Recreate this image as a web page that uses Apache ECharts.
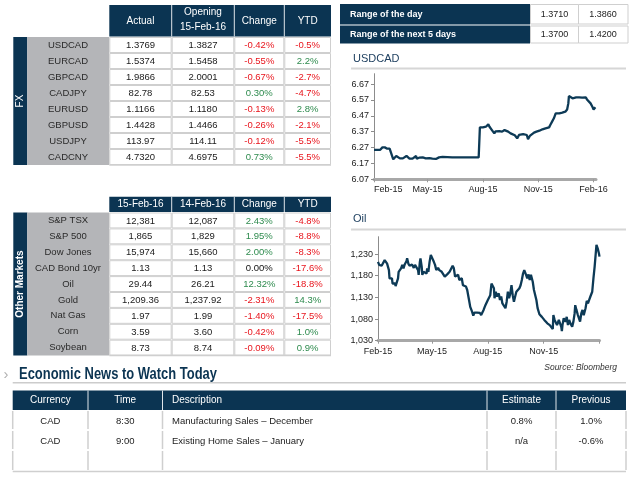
<!DOCTYPE html>
<html><head><meta charset="utf-8">
<script src="https://cdn.jsdelivr.net/npm/echarts@6/dist/echarts.min.js"></script>
<style>html,body{margin:0;padding:0;background:#fff}#c{width:636px;height:478px}</style>
</head><body><div id="c"></div>
<script>
// ---------------- DATA ----------------
const fxPairs   = ['USDCAD','EURCAD','GBPCAD','CADJPY','EURUSD','GBPUSD','USDJPY','CADCNY'];
const fxActual  = ['1.3769','1.5374','1.9866','82.78','1.1166','1.4428','113.97','4.7320'];
const fxOpening = ['1.3827','1.5458','2.0001','82.53','1.1180','1.4466','114.11','4.6975'];
const fxChange  = ['-0.42%','-0.55%','-0.67%','0.30%','-0.13%','-0.26%','-0.12%','0.73%'];
const fxYtd     = ['-0.5%','2.2%','-2.7%','-4.7%','2.8%','-2.1%','-5.5%','-5.5%'];
const fxHeaders = ['Actual','Opening\n15-Feb-16','Change','YTD'];

const mkNames   = ['S&P TSX','S&P 500','Dow Jones','CAD Bond 10yr','Oil','Gold','Nat Gas','Corn','Soybean'];
const mkToday   = ['12,381','1,865','15,974','1.13','29.44','1,209.36','1.97','3.59','8.73'];
const mkPrev    = ['12,087','1,829','15,660','1.13','26.21','1,237.92','1.99','3.60','8.74'];
const mkChange  = ['2.43%','1.95%','2.00%','0.00%','12.32%','-2.31%','-1.40%','-0.42%','-0.09%'];
const mkYtd     = ['-4.8%','-8.8%','-8.3%','-17.6%','-18.8%','14.3%','-17.5%','1.0%','0.9%'];
const mkHeaders = ['15-Feb-16','14-Feb-16','Change','YTD'];

const rangeLabels = ['Range of the day','Range of the next 5 days'];
const rangeLow    = ['1.3710','1.3700'];
const rangeHigh   = ['1.3860','1.4200'];

const newsHeaders  = ['Currency','Time','Description','Estimate','Previous'];
const newsCurrency = ['CAD','CAD'];
const newsTime     = ['8:30','9:00'];
const newsDesc     = ['Manufacturing Sales \u2013 December','Existing Home Sales \u2013 January'];
const newsEstimate = ['0.8%','n/a'];
const newsPrevious = ['1.0%','-0.6%'];

const xTickDates  = ['2015-02-01','2015-05-01','2015-08-01','2015-11-01','2016-02-01'];
const xTickLabels = ['Feb-15','May-15','Aug-15','Nov-15','Feb-16'];
const usdYTicks = [6.07,6.17,6.27,6.37,6.47,6.57,6.67];
const oilYTicks = [1030,1080,1130,1180,1230];

const usdDates = ['2015-02-01','2015-02-05','2015-02-11','2015-02-15','2015-02-19','2015-02-23','2015-02-27','2015-03-02','2015-03-05','2015-03-07',
 '2015-03-10','2015-03-13','2015-03-16','2015-03-18','2015-03-21','2015-03-24','2015-03-27','2015-03-29','2015-04-01','2015-04-04',
 '2015-04-06','2015-04-09','2015-04-12','2015-04-13','2015-04-17','2015-04-23','2015-04-28','2015-05-04','2015-05-09','2015-05-15',
 '2015-05-20','2015-05-26','2015-06-11','2015-06-22','2015-07-14','2015-07-25','2015-07-27','2015-08-01','2015-08-06','2015-08-10',
 '2015-08-12','2015-08-16','2015-08-20','2015-08-22','2015-08-25','2015-08-28','2015-09-02','2015-09-06','2015-09-09','2015-09-12',
 '2015-09-16','2015-09-19','2015-09-23','2015-09-27','2015-09-30','2015-10-03','2015-10-07','2015-10-10','2015-10-13','2015-10-15',
 '2015-10-18','2015-10-21','2015-10-25','2015-10-29','2015-11-03','2015-11-08','2015-11-13','2015-11-19','2015-11-21','2015-11-24',
 '2015-11-27','2015-11-30','2015-12-06','2015-12-11','2015-12-16','2015-12-19','2015-12-21','2015-12-22','2015-12-25','2015-12-28',
 '2015-12-30','2016-01-03','2016-01-08','2016-01-13','2016-01-19','2016-01-21','2016-01-24','2016-01-27','2016-01-30','2016-02-01',
 '2016-02-03','2016-02-04'];
const usdValues = [6.255,6.255,6.255,6.271,6.271,6.263,6.263,6.259,6.196,6.208,
 6.217,6.208,6.202,6.196,6.202,6.208,6.217,6.219,6.200,6.204,
 6.200,6.208,6.217,6.200,6.206,6.208,6.202,6.204,6.200,6.198,
 6.208,6.211,6.208,6.208,6.208,6.208,6.397,6.397,6.401,6.416,
 6.401,6.380,6.359,6.372,6.380,6.374,6.370,6.380,6.385,6.370,
 6.359,6.359,6.347,6.328,6.349,6.359,6.355,6.359,6.349,6.322,
 6.343,6.349,6.364,6.370,6.376,6.385,6.391,6.397,6.412,6.433,
 6.454,6.485,6.485,6.490,6.496,6.510,6.548,6.594,6.594,6.580,
 6.590,6.586,6.586,6.584,6.586,6.573,6.565,6.548,6.527,6.510,
 6.502,6.523];

const oilDates = ['2015-02-01','2015-02-03','2015-02-05','2015-02-07','2015-02-09','2015-02-12','2015-02-14','2015-02-16','2015-02-18','2015-02-19',
 '2015-02-20','2015-02-22','2015-02-24','2015-02-25','2015-02-27','2015-03-01','2015-03-02','2015-03-04','2015-03-06','2015-03-07',
 '2015-03-09','2015-03-11','2015-03-13','2015-03-15','2015-03-17','2015-03-20','2015-03-21','2015-03-23','2015-03-25','2015-03-27',
 '2015-03-29','2015-04-01','2015-04-03','2015-04-05','2015-04-08','2015-04-09','2015-04-10','2015-04-11','2015-04-12','2015-04-14',
 '2015-04-15','2015-04-17','2015-04-20','2015-04-22','2015-04-23','2015-04-25','2015-04-27','2015-04-29','2015-05-01','2015-05-02',
 '2015-05-04','2015-05-06','2015-05-08','2015-05-11','2015-05-13','2015-05-15','2015-05-17','2015-05-19','2015-05-22','2015-05-24',
 '2015-05-26','2015-05-28','2015-05-30','2015-06-02','2015-06-04','2015-06-06','2015-06-08','2015-06-10','2015-06-13','2015-06-15',
 '2015-06-17','2015-06-19','2015-06-21','2015-06-24','2015-06-26','2015-06-28','2015-06-30','2015-07-01','2015-07-03','2015-07-06',
 '2015-07-08','2015-07-10','2015-07-12','2015-07-14','2015-07-17','2015-07-19','2015-07-21','2015-07-23','2015-07-25','2015-07-28',
 '2015-07-30','2015-08-01','2015-08-03','2015-08-05','2015-08-07','2015-08-09','2015-08-11','2015-08-12','2015-08-14','2015-08-16',
 '2015-08-19','2015-08-21','2015-08-23','2015-08-25','2015-08-27','2015-08-30','2015-09-01','2015-09-03','2015-09-05','2015-09-07',
 '2015-09-09','2015-09-11','2015-09-13','2015-09-15','2015-09-17','2015-09-19','2015-09-22','2015-09-24','2015-09-26','2015-09-28',
 '2015-09-30','2015-10-03','2015-10-05','2015-10-07','2015-10-09','2015-10-11','2015-10-14','2015-10-16','2015-10-18','2015-10-20',
 '2015-10-22','2015-10-25','2015-10-27','2015-10-29','2015-10-31','2015-11-02','2015-11-05','2015-11-07','2015-11-09','2015-11-11',
 '2015-11-13','2015-11-16','2015-11-17','2015-11-19','2015-11-21','2015-11-23','2015-11-26','2015-11-28','2015-11-30','2015-12-01',
 '2015-12-02','2015-12-04','2015-12-07','2015-12-09','2015-12-11','2015-12-13','2015-12-15','2015-12-18','2015-12-20','2015-12-22',
 '2015-12-23','2015-12-25','2015-12-27','2015-12-30','2015-12-31','2016-01-02','2016-01-04','2016-01-06','2016-01-09','2016-01-11',
 '2016-01-13','2016-01-15','2016-01-17','2016-01-20','2016-01-22','2016-01-24','2016-01-26','2016-01-27','2016-01-29','2016-01-31',
 '2016-02-01'];
const oilValues = [1212,1205,1208,1203,1206,1216,1214,1208,1205,1193,
 1174,1170,1174,1162,1158,1162,1156,1157,1174,1189,
 1185,1197,1205,1197,1206,1214,1220,1208,1203,1201,
 1206,1198,1205,1201,1193,1182,1197,1212,1220,1201,
 1182,1189,1193,1185,1197,1189,1212,1228,1232,1229,
 1212,1205,1193,1198,1193,1189,1189,1185,1178,1174,
 1183,1182,1189,1185,1203,1197,1178,1174,1182,1170,
 1166,1174,1158,1160,1155,1147,1143,1124,1108,1097,
 1088,1095,1092,1095,1091,1094,1089,1095,1101,1112,
 1116,1124,1122,1135,1162,1158,1151,1128,1143,1132,
 1139,1124,1132,1116,1112,1105,1120,1143,1128,1139,
 1158,1135,1120,1132,1143,1139,1151,1158,1170,1185,
 1193,1182,1174,1183,1170,1182,1166,1147,1143,1124,
 1105,1091,1088,1085,1089,1078,1082,1070,1074,1066,
 1062,1057,1089,1078,1082,1066,1078,1070,1062,1052,
 1066,1082,1074,1085,1066,1078,1070,1062,1074,1093,
 1112,1101,1091,1095,1074,1093,1101,1089,1105,1122,
 1116,1124,1132,1143,1174,1201,1205,1251,1243,1232,
 1224];

// ---------------- STYLE ----------------
const FONT = "'Liberation Sans', Arial, sans-serif";
const NAVY = '#0b3452';
const LINE = '#0d3a56';
const GRAY = '#b4b5b8';
const BORDER = '#cfcfcf';
const RED = '#e8141c';
const GREEN = '#2e8b4e';
const ts = s => { const p = s.split('-'); return Date.UTC(+p[0], +p[1] - 1, +p[2]); };
const signColor = s => s.charAt(0) === '-' ? RED : (parseFloat(s) === 0 ? '#111' : GREEN);

const g = [];
function R(x, y, w, h, fill, stroke, lw) {
  g.push({type:'rect', silent:true, z:1, shape:{x:x, y:y, width:w, height:h},
    style:{fill:fill || 'none', stroke:stroke || null, lineWidth:lw || 0}});
}
function L(x1, y1, x2, y2, color, w) {
  g.push({type:'line', silent:true, z:2, shape:{x1:x1, y1:y1, x2:x2, y2:y2}, style:{stroke:color, lineWidth:w || 1}});
}
function T(x, y, text, o) {
  o = o || {};
  const font = (o.italic ? 'italic ' : '') + (o.bold ? 'bold ' : '') + (o.size || 9) + 'px ' + (o.family || FONT);
  const al = o.align || 'center';
  g.push({type:'text', silent:true, z:5, x:x, y:y, rotation:o.rot || 0, scaleX:o.sx || 1,
    style:{text:text, fill:o.color || '#222', font:font, align:al, verticalAlign:'middle',
           textAlign:al, textVerticalAlign:'middle', lineHeight:o.lh || 14}});
}

// ---------- Data tables (FX and Other Markets) ----------
function dataTable(cfg) {
  const cx = cfg.cols, y0 = cfg.rowTop, rh = cfg.rowH, n = cfg.names.length;
  R(cx[0], cfg.headTop, cx[4] - cx[0], y0 - cfg.headTop - 0.5, NAVY);
  for (let i = 1; i < 4; i++) L(cx[i], cfg.headTop, cx[i], y0 - 0.5, '#dfe5ea', 1);
  cfg.headers.forEach((h, i) => {
    const mid = (cx[i] + cx[i + 1]) / 2;
    const parts = h.split('\n');
    if (parts.length === 2) {
      T(mid, cfg.headTop + 7.5, parts[0], {color:'#fff', size:10});
      T(mid, cfg.headTop + 22, parts[1], {color:'#fff', size:10});
    } else {
      T(mid, (cfg.headTop + y0) / 2, h, {color:'#fff', size:10});
    }
  });
  R(13.3, y0, 14, rh * n, NAVY);
  R(27.3, y0, cx[0] - 27.3, rh * n, GRAY);
  T(20.5, y0 + rh * n / 2, cfg.side, {color:'#fff', size:10, bold:cfg.sideBold, rot:Math.PI / 2});
  const cols = [cfg.a, cfg.b, cfg.c, cfg.d];
  for (let r = 0; r < n; r++) {
    const y = y0 + r * rh;
    T(68, y + rh / 2, cfg.names[r], {color:'#2a2a2a', size:9.5});
    for (let c = 0; c < 4; c++) {
      R(cx[c] + 0.5, y + 0.5, cx[c + 1] - cx[c] - 1, rh - 1, '#fff', BORDER, 1);
      const v = cols[c][r];
      const col = c >= 2 ? signColor(v) : '#1a1a1a';
      T((cx[c] + cx[c + 1]) / 2, y + rh / 2 + 0.5, v, {color:col, size:9.5});
    }
  }
  L(cx[0], y0 + rh * n, cx[4], y0 + rh * n, BORDER, 1.5);
}
dataTable({cols:[109.3,171.7,234.3,284.3,331], headTop:5, rowTop:37, rowH:16,
  headers:fxHeaders, names:fxPairs, a:fxActual, b:fxOpening, c:fxChange, d:fxYtd, side:'FX'});
dataTable({cols:[109.3,171.7,234.3,284.3,331], headTop:196.7, rowTop:212.5, rowH:15.9,
  headers:mkHeaders, names:mkNames, a:mkToday, b:mkPrev, c:mkChange, d:mkYtd, side:'Other Markets', sideBold:true});

// ---------- Range table ----------
const rgRows = [[4, 20.5], [25.5, 18]];
rgRows.forEach((rr, i) => {
  R(340, rr[0], 190, rr[1], NAVY);
  T(350, rr[0] + rr[1] / 2 + 0.5, rangeLabels[i], {color:'#fff', size:9, bold:true, align:'left'});
  R(530.5, rr[0] + 0.5, 48, rr[1] - 1, '#fff', BORDER, 1);
  R(578.5, rr[0] + 0.5, 49.5, rr[1] - 1, '#fff', BORDER, 1);
  T(554.5, rr[0] + rr[1] / 2 + 0.5, rangeLow[i], {size:9});
  T(603, rr[0] + rr[1] / 2 + 0.5, rangeHigh[i], {size:9});
});

// ---------- Chart titles ----------
T(353, 59, 'USDCAD', {align:'left', size:11, color:'#1f4060'});
L(351, 68.5, 626, 68.5, '#d6d6d6', 2);
T(353, 219, 'Oil', {align:'left', size:11, color:'#1f4060'});
L(351, 229.5, 626, 229.5, '#d6d6d6', 2);
T(617, 368, 'Source: Bloomberg', {align:'right', size:8.5, italic:true, color:'#333'});

// ---------- Economic news ----------
T(6, 375, '\u203A', {size:15, color:'#b0b0b0'});
T(19, 375, 'Economic News to Watch Today', {align:'left', bold:true, size:16, color:NAVY, sx:0.81});
L(12.7, 382.7, 626, 382.7, '#cccccc', 1.5);
const nx = [12.7, 88, 162.5, 487, 556, 626];
R(nx[0], 390.5, nx[5] - nx[0], 19.5, NAVY);
for (let i = 1; i < 5; i++) L(nx[i], 390.5, nx[i], 410, '#dfe5ea', 1);
newsHeaders.forEach((h, i) => {
  if (i === 2) T(nx[2] + 9.5, 400.5, h, {align:'left', color:'#fff', size:10});
  else T((nx[i] + nx[i + 1]) / 2, 400.5, h, {color:'#fff', size:10});
});
const newsRowY = [[410, 430], [430, 450], [450, 471]];
newsRowY.forEach((ry) => {
  for (let i = 0; i < 6; i++) L(nx[i], ry[0] + 1, nx[i], ry[1] - 1, BORDER, 1.5);
});
L(nx[0], 471.5, nx[5], 471.5, BORDER, 1.5);
for (let r = 0; r < newsCurrency.length; r++) {
  const y = (newsRowY[r][0] + newsRowY[r][1]) / 2 + 1;
  T((nx[0] + nx[1]) / 2, y, newsCurrency[r], {size:9.5});
  T((nx[1] + nx[2]) / 2, y, newsTime[r], {size:9.5});
  T(nx[2] + 9.5, y, newsDesc[r], {align:'left', size:9.5});
  T((nx[3] + nx[4]) / 2, y, newsEstimate[r], {size:9.5});
  T((nx[4] + nx[5]) / 2, y, newsPrevious[r], {size:9.5});
}

// ---------- Charts ----------
const tickTs = xTickDates.map(ts);
const fmtX = v => { const i = tickTs.indexOf(v); return i >= 0 ? xTickLabels[i] : ''; };
function xAxisCfg(gi, max, labelTicks, alignMin) {
  return {type:'value', gridIndex:gi, min:ts('2015-02-01'), max:ts(max),
    axisLine:{show:true, lineStyle:{color:'#a8a8a8', width:3}},
    axisTick:{show:true, customValues:tickTs, length:3, lineStyle:{color:'#999'}},
    axisLabel:{customValues:labelTicks, formatter:fmtX, fontSize:9, color:'#222', fontFamily:FONT, margin:6,
      alignMinLabel:alignMin, showMinLabel:true, showMaxLabel:true},
    splitLine:{show:false}};
}
function yAxisCfg(gi, min, max, ticks, fmt) {
  return {type:'value', gridIndex:gi, min:min, max:max,
    axisLine:{show:true, lineStyle:{color:'#8c8c8c', width:1}},
    axisTick:{show:true, customValues:ticks, length:3, lineStyle:{color:'#8c8c8c'}},
    axisLabel:{customValues:ticks, formatter:fmt, fontSize:9, color:'#222', fontFamily:FONT, margin:5},
    splitLine:{show:false}};
}

const option = {
  animation:false,
  backgroundColor:'#fff',
  grid:[{left:374, top:73.7, width:222, height:105.6},
        {left:378, top:236.7, width:221.5, height:104}],
  xAxis:[xAxisCfg(0, '2016-02-05', tickTs, 'left'),
         xAxisCfg(1, '2016-02-01', tickTs.slice(0, 4), 'center')],
  yAxis:[yAxisCfg(0, 6.07, 6.735, usdYTicks, v => Number(v).toFixed(2)),
         yAxisCfg(1, 1030, 1270, oilYTicks, v => Number(v).toLocaleString('en-US'))],
  series:[
    {type:'line', xAxisIndex:0, yAxisIndex:0, showSymbol:false, lineStyle:{color:LINE, width:2.3},
     data:usdDates.map((d, i) => [ts(d), usdValues[i]])},
    {type:'line', xAxisIndex:1, yAxisIndex:1, showSymbol:false, lineStyle:{color:LINE, width:2.3},
     data:oilDates.map((d, i) => [ts(d), oilValues[i]])}
  ],
  graphic:{elements:g}
};
const chart = echarts.init(document.getElementById('c'), null, {renderer:'canvas'});
chart.setOption(option);
</script></body></html>
